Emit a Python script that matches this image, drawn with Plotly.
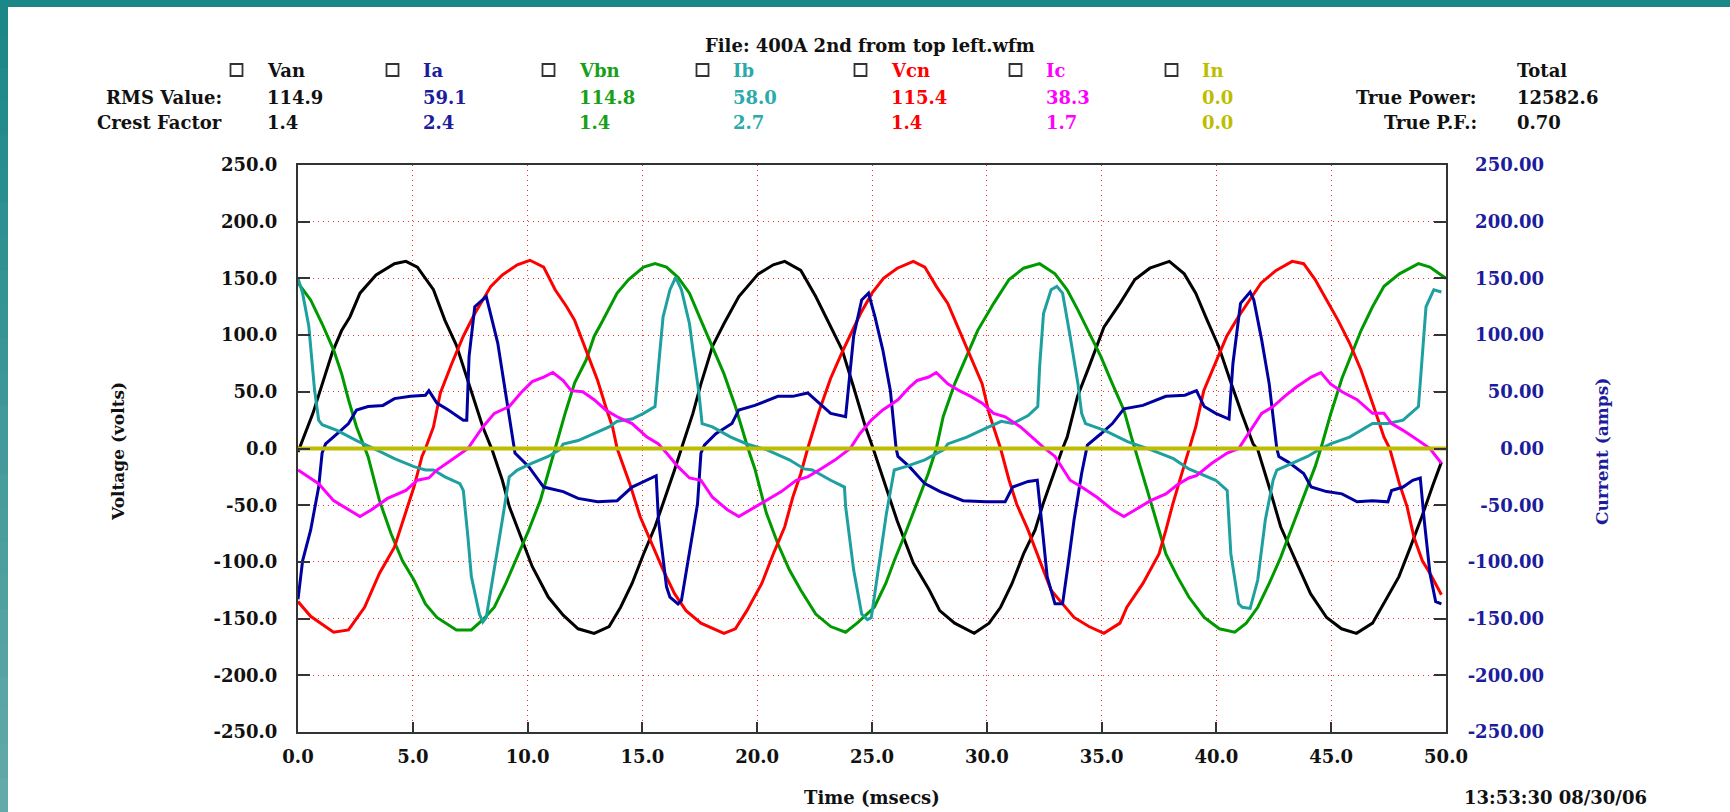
import plotly.graph_objects as go

# ---------------- data ----------------
CHANNELS = ["Van", "Ia", "Vbn", "Ib", "Vcn", "Ic", "In"]
RMS_VALUES = ["114.9", "59.1", "114.8", "58.0", "115.4", "38.3", "0.0"]
CREST_FACTORS = ["1.4", "2.4", "1.4", "2.7", "1.4", "1.7", "0.0"]
TRUE_POWER = "12582.6"
TRUE_PF = "0.70"

X_TICKS = [0, 5, 10, 15, 20, 25, 30, 35, 40, 45, 50]
X_LABELS = ["0.0", "5.0", "10.0", "15.0", "20.0", "25.0", "30.0", "35.0", "40.0", "45.0", "50.0"]
Y_TICKS = [250, 200, 150, 100, 50, 0, -50, -100, -150, -200, -250]
Y_LEFT_LABELS = ["250.0", "200.0", "150.0", "100.0", "50.0", "0.0", "-50.0", "-100.0",
                 "-150.0", "-200.0", "-250.0"]
Y_RIGHT_LABELS = ["250.00", "200.00", "150.00", "100.00", "50.00", "0.00", "-50.00", "-100.00",
                  "-150.00", "-200.00", "-250.00"]

# (time ms, value) samples
van = [(0, -3), (0.65, 31), (1.5, 85), (1.9, 104), (2.26, 116), (2.7, 137), (3.4, 153), (4.2, 163),
       (4.7, 165), (5.2, 160), (5.9, 140), (6.4, 113), (6.9, 91), (7.55, 51), (8.05, 19), (8.45, -1),
       (8.9, -28), (9.2, -51), (9.7, -78), (10.2, -104), (10.9, -131), (11.55, -147), (12.2, -159),
       (12.9, -163), (13.55, -157), (14.05, -140), (14.55, -119), (15.05, -93), (15.55, -69),
       (16.05, -40), (16.4, -19), (16.7, 0), (17.2, 31), (17.55, 57), (18.05, 90), (18.55, 110),
       (19.2, 134), (20.05, 154), (20.7, 162), (21.2, 165), (21.9, 157), (22.55, 134), (23.2, 107),
       (23.7, 87), (24.2, 54), (24.7, 20), (25.05, 0), (25.5, -27), (26.1, -64), (26.8, -101),
       (27.5, -125), (27.95, -143), (28.6, -154), (29.45, -163), (30.1, -154), (30.6, -140),
       (31.1, -119), (31.6, -93), (32.1, -72), (32.45, -49), (32.95, -19), (33.3, 0), (33.5, 10),
       (33.95, 46), (34.45, 72), (35.1, 107), (35.8, 128), (36.45, 149), (37.1, 159), (37.95, 165),
       (38.6, 154), (39.1, 137), (39.6, 113), (40.1, 90), (40.6, 60), (41.1, 31), (41.6, 4),
       (41.8, -1), (42.3, -34), (42.8, -69), (43.5, -101), (44.1, -128), (44.8, -149), (45.45, -159),
       (46.1, -163), (46.8, -154), (47.45, -131), (47.95, -113), (48.45, -87), (48.95, -60),
       (49.45, -31), (49.8, -12)]

ia = [(0, -133), (0.2, -99), (0.55, -72), (0.9, -34), (1.05, -4), (1.2, 4), (1.7, 13), (2.2, 22),
      (2.55, 34), (3.05, 37), (3.7, 38), (4.2, 44), (4.9, 46), (5.55, 47), (5.7, 51), (6.05, 40),
      (6.55, 34), (7.2, 25), (7.35, 25), (7.45, 81), (7.7, 125), (8.2, 134), (8.7, 93), (9.05, 49),
      (9.4, 4), (9.45, -4), (10.05, -16), (10.7, -34), (11.55, -38), (12.2, -44), (13.05, -47),
      (13.9, -46), (14.55, -34), (15.2, -28), (15.6, -24), (15.7, -63), (16.05, -122), (16.2, -131),
      (16.55, -137), (16.7, -134), (17.05, -93), (17.4, -49), (17.55, -4), (17.7, 3), (18.2, 13),
      (18.9, 22), (19.2, 34), (19.9, 38), (20.9, 46), (21.55, 46), (22.2, 49), (22.7, 40),
      (23.2, 31), (23.85, 28), (23.97, 51), (24.2, 99), (24.55, 131), (24.85, 137), (25.13, 116),
      (25.47, 87), (25.8, 51), (25.97, 19), (26.05, 0), (26.13, -7), (26.63, -16), (27.3, -31),
      (27.97, -38), (28.97, -46), (29.97, -47), (30.8, -47), (31.13, -34), (31.8, -29), (32.2, -28),
      (32.38, -63), (32.63, -113), (32.97, -137), (33.3, -137), (33.55, -101), (33.8, -63),
      (34.13, -22), (34.38, 3), (34.97, 13), (35.47, 22), (35.97, 35), (36.8, 38), (37.8, 46),
      (38.63, 47), (39.13, 51), (39.47, 37), (39.97, 31), (40.55, 26), (40.72, 75), (41.05, 128),
      (41.47, 138), (41.63, 131), (41.97, 96), (42.3, 57), (42.63, 0), (42.72, -7), (43.13, -12),
      (43.8, -22), (44.13, -34), (44.8, -38), (45.47, -40), (46.13, -47), (46.8, -46), (47.47, -47),
      (47.63, -37), (48.13, -34), (48.55, -28), (48.88, -26), (49.05, -63), (49.3, -110),
      (49.55, -135), (49.8, -137)]

vbn = [(0, 146), (0.55, 131), (1.05, 110), (1.55, 87), (1.9, 66), (2.2, 43), (2.55, 19), (2.9, 1),
       (3.05, -7), (3.55, -46), (4.05, -75), (4.55, -99), (5.05, -116), (5.55, -137), (6.05, -149),
       (6.9, -160), (7.55, -160), (8.05, -151), (8.55, -140), (9.05, -119), (9.55, -96),
       (10.05, -72), (10.55, -46), (10.9, -22), (11.2, 0), (11.65, 32), (12.05, 58), (12.55, 78),
       (12.9, 99), (13.2, 110), (13.9, 137), (14.4, 149), (15.05, 160), (15.55, 163), (16.05, 160),
       (16.55, 151), (17.05, 137), (17.55, 113), (18.05, 90), (18.55, 66), (19.05, 37), (19.4, 13),
       (19.6, 0), (19.9, -18), (20.4, -57), (20.9, -84), (21.4, -107), (21.9, -125), (22.55, -146),
       (23.2, -157), (23.85, -162), (24.35, -154), (25.1, -140), (25.6, -119), (25.97, -99),
       (26.45, -75), (26.95, -49), (27.45, -22), (27.8, 0), (28.1, 28), (28.6, 57), (29.1, 81),
       (29.6, 104), (30.3, 128), (30.97, 149), (31.6, 159), (32.3, 163), (32.97, 154), (33.5, 140),
       (33.97, 122), (34.47, 101), (34.97, 81), (35.47, 57), (35.97, 34), (36.3, 10), (36.45, 0),
       (36.8, -25), (37.3, -58), (37.8, -93), (38.3, -113), (38.8, -131), (39.47, -149),
       (40.13, -159), (40.8, -162), (41.3, -154), (41.8, -140), (42.3, -119), (42.8, -96),
       (43.3, -69), (43.8, -43), (44.3, -16), (44.55, 0), (44.97, 30), (45.47, 62), (45.97, 87),
       (46.3, 104), (46.8, 125), (47.3, 143), (47.97, 154), (48.8, 163), (49.3, 160), (50.0, 150)]

ib = [(0, 150), (0.2, 137), (0.47, 108), (0.72, 52), (0.9, 25), (1.05, 21), (1.7, 16), (2.55, 7),
      (3.4, -1), (4.2, -9), (5.05, -16), (5.55, -19), (5.9, -19), (6.4, -25), (7.05, -31),
      (7.2, -37), (7.4, -78), (7.55, -113), (7.9, -146), (8.05, -153), (8.2, -149), (8.55, -104),
      (8.9, -63), (9.2, -25), (9.55, -19), (10.2, -13), (10.9, -7), (11.4, -1), (11.55, 4),
      (12.2, 7), (12.9, 13), (13.55, 19), (13.9, 24), (14.55, 26), (15.05, 31), (15.55, 37),
      (15.7, 72), (15.9, 116), (16.2, 140), (16.45, 151), (16.7, 140), (17.05, 110), (17.2, 87),
      (17.45, 51), (17.6, 22), (18.05, 19), (18.85, 10), (19.55, 4), (20.4, -1), (21.4, -10),
      (22.05, -18), (22.4, -19), (23.2, -28), (23.8, -34), (23.85, -51), (24.2, -107),
      (24.55, -146), (24.8, -151), (24.97, -149), (25.3, -101), (25.63, -57), (25.97, -19),
      (26.47, -16), (27.3, -10), (28.13, -1), (28.3, 4), (29.13, 10), (29.97, 18), (30.63, 24),
      (31.13, 22), (31.8, 29), (32.22, 37), (32.3, 72), (32.47, 119), (32.8, 140), (33.05, 143),
      (33.3, 137), (33.63, 99), (33.97, 57), (34.13, 31), (34.3, 22), (35.13, 16), (36.13, 6),
      (37.13, -1), (38.13, -9), (38.8, -18), (39.3, -22), (39.97, -28), (40.47, -37),
      (40.63, -93), (40.97, -137), (41.13, -140), (41.47, -141), (41.8, -116), (42.13, -63),
      (42.47, -28), (42.63, -19), (43.3, -13), (43.97, -7), (44.47, -1), (44.97, 4), (45.8, 10),
      (46.8, 22), (47.47, 22), (48.13, 25), (48.8, 37), (48.97, 87), (49.13, 125), (49.47, 140),
      (49.8, 138)]

vcn = [(0, -135), (0.55, -148), (1.55, -162), (2.2, -160), (2.9, -140), (3.55, -110), (4.2, -87),
       (4.7, -57), (5.05, -34), (5.4, -7), (5.55, 0), (5.9, 19), (6.2, 49), (6.7, 75), (7.2, 99),
       (7.7, 119), (8.4, 143), (8.9, 153), (9.55, 162), (10.1, 166), (10.7, 160), (11.2, 140),
       (11.7, 125), (12.05, 113), (12.55, 87), (13.05, 60), (13.4, 37), (13.7, 19), (13.9, 0),
       (14.2, -16), (14.45, -31), (14.9, -60), (15.4, -84), (15.9, -107), (16.4, -128),
       (16.9, -143), (17.55, -154), (18.55, -163), (19.05, -159), (19.55, -143), (20.2, -119),
       (20.7, -93), (21.2, -69), (21.55, -43), (21.9, -22), (22.2, 0), (22.7, 33), (23.2, 62),
       (23.7, 85), (24.2, 106), (24.5, 119), (25.0, 137), (25.5, 150), (26.1, 159), (26.8, 165),
       (27.3, 160), (27.8, 143), (28.3, 128), (28.8, 104), (29.3, 81), (29.8, 57), (30.1, 31),
       (30.45, 10), (30.6, 0), (30.97, -28), (31.3, -49), (31.8, -72), (32.3, -99), (32.8, -125),
       (33.3, -137), (33.8, -149), (34.45, -157), (35.1, -163), (35.8, -154), (36.1, -140),
       (36.8, -119), (37.5, -93), (37.8, -72), (38.1, -49), (38.45, -25), (38.8, 0), (39.1, 19),
       (39.45, 51), (39.95, 75), (40.45, 99), (40.95, 116), (41.45, 131), (41.95, 146),
       (42.6, 157), (43.3, 165), (43.8, 163), (44.3, 149), (44.8, 131), (45.3, 113), (45.8, 93),
       (46.3, 69), (46.8, 40), (47.3, 10), (47.55, 0), (47.97, -31), (48.3, -51), (48.6, -78),
       (48.97, -99), (49.3, -110), (49.8, -129)]

ic = [(0, -19), (0.9, -31), (1.55, -46), (2.2, -54), (2.7, -60), (3.2, -54), (3.9, -44), (4.7, -37),
      (5.2, -28), (5.7, -26), (6.05, -19), (6.7, -10), (7.4, 0), (8.05, 19), (8.55, 31), (9.2, 37),
      (9.7, 49), (10.2, 59), (10.7, 63), (11.1, 67), (11.55, 60), (11.9, 51), (12.4, 50),
      (12.9, 43), (13.4, 34), (13.9, 28), (14.55, 22), (15.2, 10), (15.7, 4), (16.05, -4),
      (16.55, -16), (17.05, -26), (17.55, -28), (18.05, -43), (18.7, -54), (19.2, -60),
      (19.7, -54), (20.4, -46), (21.05, -38), (21.7, -28), (22.2, -25), (22.7, -19), (23.4, -10),
      (24.05, 0), (24.47, 13), (24.97, 25), (25.47, 34), (26.13, 43), (26.63, 54), (26.97, 60),
      (27.47, 63), (27.8, 67), (28.3, 57), (28.8, 51), (29.3, 46), (29.8, 40), (30.3, 31),
      (30.8, 28), (31.47, 19), (31.97, 10), (32.47, 1), (32.97, -7), (33.3, -17), (33.63, -28),
      (34.13, -34), (34.8, -43), (35.47, -54), (35.97, -60), (36.47, -54), (37.13, -46),
      (37.8, -40), (38.3, -32), (38.8, -26), (39.13, -24), (39.8, -13), (40.47, -4), (40.97, 0),
      (41.47, 16), (41.97, 31), (42.47, 37), (42.97, 46), (43.47, 54), (44.13, 63), (44.55, 67),
      (44.97, 57), (45.47, 50), (46.13, 43), (46.8, 31), (47.3, 31), (47.63, 22), (48.13, 16),
      (48.8, 7), (49.3, 0), (49.8, -13)]

i_n = [(0, 0), (50, 0)]

SERIES = [("Van", van, "#000000", "y"), ("Ia", ia, "#0000a0", "y2"), ("Vbn", vbn, "#009900", "y"),
          ("Ib", ib, "#1ea0a0", "y2"), ("Vcn", vcn, "#ff0000", "y"), ("Ic", ic, "#ff00ff", "y2"),
          ("In", i_n, "#bcbc00", "y2")]
TEXT_COLORS = ["#111111", "#1c1c9c", "#18a018", "#2aaaaa", "#ff0000", "#ff00ff", "#bdbd00"]

# ---------------- layout geometry (pixels) ----------------
W, H = 1730, 812
PL, PR, PT, PB = 298, 1446, 165, 732
PAPER_R = 1545
FONT = "DejaVu Serif"


def px(x):
    return (x - PL) / (PAPER_R - PL)


def py(y):
    return (PB - y) / (PB - PT)


fig = go.Figure()
for name, pts, color, yax in SERIES:
    t = [p[0] for p in pts]
    v = [p[1] for p in pts]
    fig.add_trace(go.Scatter(x=t, y=v, name=name, mode="lines", yaxis=yax,
                             line=dict(color=color, width=4 if name == "In" else 3),
                             showlegend=False, hoverinfo="skip"))

annotations = []
shapes = []


def ann(text, x, y, color="#111111", xanchor="left", size=18, angle=0):
    annotations.append(dict(text=text, x=px(x), y=py(y), xref="paper", yref="paper",
                            xanchor=xanchor, yanchor="middle", showarrow=False, textangle=angle,
                            font=dict(family=FONT, size=size, color=color, weight="bold")))


ann("File: 400A 2nd from top left.wfm", 870, 45, xanchor="center")
ROW_Y = [71, 97, 123]
COL_X = [265, 421, 577, 731, 889, 1044, 1200]
ann("RMS Value:", 224, ROW_Y[1], xanchor="right")
ann("Crest Factor", 224, ROW_Y[2], xanchor="right")
for i, ch in enumerate(CHANNELS):
    cx = COL_X[i]
    ann(ch, cx, ROW_Y[0], TEXT_COLORS[i])
    ann(RMS_VALUES[i], cx, ROW_Y[1], TEXT_COLORS[i])
    ann(CREST_FACTORS[i], cx, ROW_Y[2], TEXT_COLORS[i])
    bx = cx - 28.5
    shapes.append(dict(type="rect", xref="paper", yref="paper", x0=px(bx - 6), x1=px(bx + 6),
                       y0=py(ROW_Y[0] - 7), y1=py(ROW_Y[0] + 5), line=dict(color="#333333", width=1.8),
                       fillcolor="white"))
ann("Total", 1515, ROW_Y[0])
ann("True Power:", 1479, ROW_Y[1], xanchor="right")
ann(TRUE_POWER, 1515, ROW_Y[1])
ann("True P.F.:", 1479, ROW_Y[2], xanchor="right")
ann(TRUE_PF, 1515, ROW_Y[2])
ann("Time (msecs)", 872, 797, xanchor="center")
ann("13:53:30 08/30/06", 1462, 797)
ann("Voltage (volts)", 118, 452, xanchor="center", size=17, angle=-90)
ann("Current (amps)", 1602, 452, color="#1c1c9c", xanchor="center", size=17, angle=-90)

# teal frame (top bar + left gradient strip)
shapes.append(dict(type="rect", xref="paper", yref="paper", x0=px(0), x1=px(W), y0=py(0), y1=py(7),
                   line=dict(width=0), fillcolor="#1b8787", layer="above"))
NSEG = 24
for k in range(NSEG):
    f = k / (NSEG - 1)
    r = int(27 + (100 - 27) * f)
    g = int(135 + (170 - 135) * f)
    shapes.append(dict(type="rect", xref="paper", yref="paper", x0=px(0), x1=px(8),
                       y0=py(H * k / NSEG), y1=py(H * (k + 1) / NSEG + 1),
                       line=dict(width=0), fillcolor=f"rgb({r},{g},{g})", layer="above"))

axis_common = dict(showline=True, linecolor="#333333", linewidth=2, ticks="inside",
                   tickcolor="#333333", tickwidth=2, zeroline=False, showgrid=True,
                   gridcolor="#ff2a2a", gridwidth=1.4, griddash="1px,4px")

fig.update_layout(
    width=W, height=H,
    margin=dict(l=PL, r=W - PAPER_R, t=PT, b=H - PB, pad=0),
    paper_bgcolor="white", plot_bgcolor="white",
    font=dict(family=FONT, size=18, color="#111111", weight="bold"),
    xaxis=dict(range=[0, 50], domain=[0, (PR - PL) / (PAPER_R - PL)], tickvals=X_TICKS,
               ticktext=X_LABELS, ticklen=10, mirror=True, ticklabelstandoff=7,
               tickfont=dict(family=FONT, size=18, color="#111111", weight="bold"),
               **axis_common),
    yaxis=dict(range=[-250, 250], tickvals=Y_TICKS, ticktext=Y_LEFT_LABELS, ticklen=12,
               mirror="ticks", ticklabelstandoff=15,
               tickfont=dict(family=FONT, size=18, color="#111111", weight="bold"),
               **axis_common),
    yaxis2=dict(range=[-250, 250], overlaying="y", anchor="free", position=1, side="left",
                tickvals=Y_TICKS, ticktext=Y_RIGHT_LABELS, showgrid=False, zeroline=False,
                showline=False, ticks="", ticklabelstandoff=1,
                tickfont=dict(family=FONT, size=18, color="#1c1c9c", weight="bold")),
    annotations=annotations,
    shapes=shapes,
    showlegend=False,
)

fig.write_html("out.html", config={"displayModeBar": False},
               post_script="document.body.style.margin='0px';document.body.style.overflow='hidden';")
